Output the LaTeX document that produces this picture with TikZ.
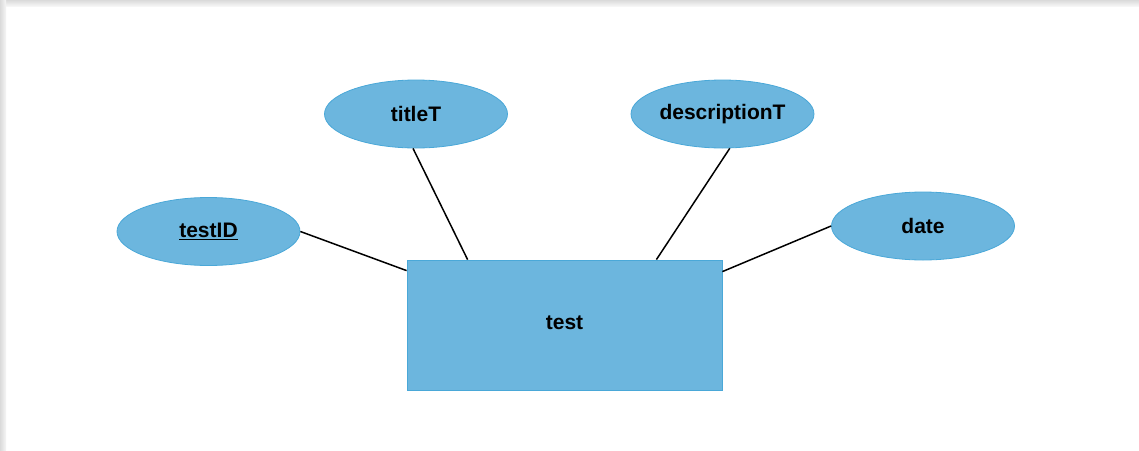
\documentclass[tikz,border=0pt]{standalone}
\usepackage{fontspec}
\setmainfont{Liberation Sans}
\usetikzlibrary{shapes.geometric}
\definecolor{entfill}{HTML}{6CB6DE}
\definecolor{entedge}{HTML}{4AA8D8}
\definecolor{framegray}{HTML}{EDEDED}
\tikzset{
  attr/.style={ellipse, draw=entedge, fill=entfill, line width=0.8pt,
    minimum width=183pt, minimum height=68pt, inner sep=0pt,
    font=\fontsize{21}{24}\selectfont\bfseries},
  entity/.style={rectangle, draw=entedge, fill=entfill, line width=0.8pt,
    minimum width=315pt, minimum height=130pt, inner sep=0pt,
    font=\fontsize{21}{24}\selectfont\bfseries},
  link/.style={draw=black, line width=1.5pt}
}
\begin{document}
\begin{tikzpicture}[x=1pt, y=-1pt]
  % canvas and window edge
  \useasboundingbox (0,0) rectangle (1139,450);
  \fill[white] (0,0) rectangle (1139,450);
  \shade[top color=framegray!92!black, bottom color=framegray!50] (0,0) rectangle (1139,6);
  \shade[left color=framegray!92!black, right color=framegray!50] (0,0) rectangle (6,450);

  % entity and its attributes
  \node[entity] (test) at (564.5,325) {\raisebox{4pt}{test}};
  \node[attr] (testID) at (208.5,231.5) {\underline{testID}};
  \node[attr] (titleT) at (416,114) {titleT};
  \node[attr] (descriptionT) at (722.5,114) {descriptionT};
  \node[attr] (date) at (923,226) {date};

  % attribute links
  \draw[link] (testID.east) -- ([yshift=-11pt]test.north west);
  \draw[link] (titleT.265) -- ([xshift=61pt]test.north west);
  \draw[link] (descriptionT.282) -- ([xshift=-66pt]test.north east);
  \draw[link] (date.west) -- ([yshift=-12pt]test.north east);
\end{tikzpicture}
\end{document}
